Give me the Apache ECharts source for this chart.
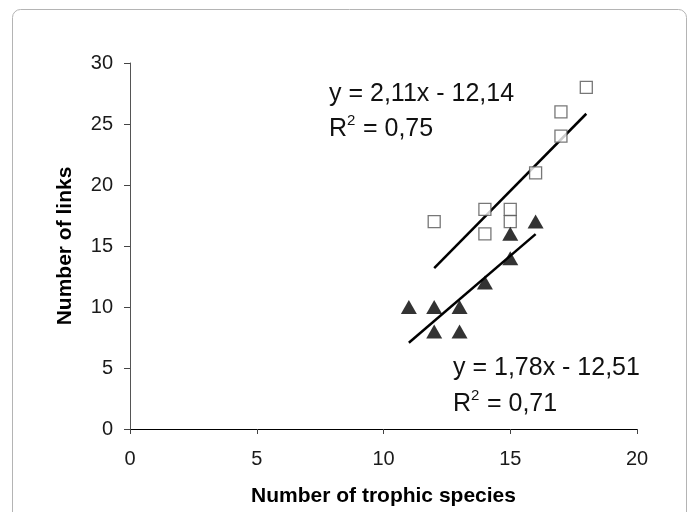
<!DOCTYPE html>
<html>
<head>
<meta charset="utf-8">
<script src="https://cdn.jsdelivr.net/npm/echarts@6/dist/echarts.min.js"></script>
<style>
  html, body { margin: 0; padding: 0; background: #fff; }
  #chart { width: 689px; height: 512px; }
</style>
</head>
<body>
<div id="chart"></div>
<script>
// open squares (upper group)
const squares = [
  [12, 17], [14, 18], [14, 16], [15, 18], [15, 17],
  [16, 21], [17, 24], [17, 26], [18, 28]
];
// filled triangles (lower group)
const triangles = [
  [11, 10], [12, 10], [13, 10], [12, 8], [13, 8],
  [14, 12], [15, 14], [15, 16], [16, 17]
];
// trend line end points
const upperFit = [[12, 13.18], [18, 25.84]];
const lowerFit = [[11, 7.07], [16, 15.97]];
const xTicks = [0, 5, 10, 15, 20];
const yTicks = [0, 5, 10, 15, 20, 25, 30];

const font = "Arial, 'Liberation Sans', sans-serif";
const eqStyle = { fontFamily: font, fontSize: 25, fill: "#111" };
const supStyle = { fontFamily: font, fontSize: 15, fill: "#111" };

const chart = echarts.init(document.getElementById("chart"), null, { renderer: "canvas" });

chart.setOption({
  animation: false,
  grid: { left: 130, right: 52, top: 63, bottom: 80 },
  xAxis: {
    type: "value",
    min: xTicks[0],
    max: xTicks[xTicks.length - 1],
    interval: 5,
    name: "Number of trophic species",
    nameLocation: "middle",
    nameGap: 57,
    nameTextStyle: { fontFamily: font, fontSize: 21, fontWeight: "bold", color: "#000" },
    axisLine: { onZero: false, lineStyle: { color: "#000", width: 1 } },
    axisTick: { length: 5, lineStyle: { color: "#444" } },
    axisLabel: { fontFamily: font, fontSize: 20, color: "#1a1a1a", margin: 20 },
    splitLine: { show: false }
  },
  yAxis: {
    type: "value",
    min: yTicks[0],
    max: yTicks[yTicks.length - 1],
    interval: 5,
    name: "Number of links",
    nameLocation: "middle",
    nameGap: 54,
    nameTextStyle: { fontFamily: font, fontSize: 21, fontWeight: "bold", color: "#000" },
    axisLine: { show: true, onZero: false, lineStyle: { color: "#555", width: 1 } },
    axisTick: { show: true, length: 6, lineStyle: { color: "#444" } },
    axisLabel: { fontFamily: font, fontSize: 20, color: "#1a1a1a", margin: 17 },
    splitLine: { show: false }
  },
  graphic: [
    {
      type: "rect", silent: true,
      shape: { x: 12.5, y: 9.5, width: 674, height: 530, r: 8 },
      style: { fill: "none", stroke: "#b4b4b4", lineWidth: 1 }
    },
    { type: "text", left: 329, top: 82, style: Object.assign({ text: "y = 2,11x - 12,14" }, eqStyle) },
    { type: "text", left: 329, top: 117, style: Object.assign({ text: "R" }, eqStyle) },
    { type: "text", left: 347, top: 113, style: Object.assign({ text: "2" }, supStyle) },
    { type: "text", left: 356, top: 117, style: Object.assign({ text: " = 0,75" }, eqStyle) },
    { type: "text", left: 453, top: 356, style: Object.assign({ text: "y = 1,78x - 12,51" }, eqStyle) },
    { type: "text", left: 453, top: 392, style: Object.assign({ text: "R" }, eqStyle) },
    { type: "text", left: 471, top: 388, style: Object.assign({ text: "2" }, supStyle) },
    { type: "text", left: 480, top: 392, style: Object.assign({ text: " = 0,71" }, eqStyle) }
  ],
  series: [
    {
      type: "line", data: upperFit, symbol: "none",
      lineStyle: { color: "#000", width: 2.5 }, z: 1
    },
    {
      type: "line", data: lowerFit, symbol: "none",
      lineStyle: { color: "#000", width: 2.5 }, z: 1
    },
    {
      type: "scatter", data: squares, symbol: "rect", symbolSize: 12,
      itemStyle: { color: "#fff", borderColor: "#555", borderWidth: 1.3 }, z: 3
    },
    {
      type: "scatter", data: triangles, symbol: "triangle", symbolSize: [16, 14],
      itemStyle: { color: "#000" }, z: 3
    }
  ]
});
</script>
</body>
</html>
